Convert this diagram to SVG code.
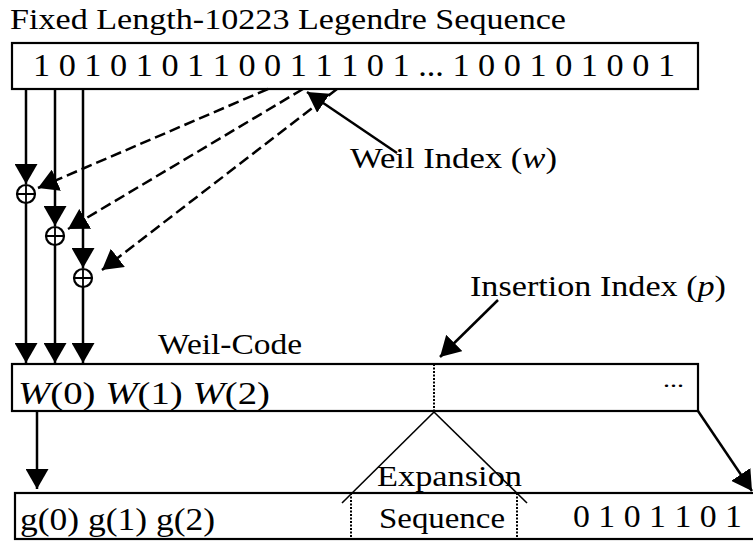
<svg xmlns="http://www.w3.org/2000/svg" width="753" height="541" viewBox="0 0 753 541">
<style>
.t{fill:#000}
.box{fill:#fff;stroke:#000;stroke-width:2.2}
.ln{fill:none;stroke:#000;stroke-width:2.5}
.dash{fill:none;stroke:#000;stroke-width:2.5;stroke-dasharray:11 5}
.dot{fill:none;stroke:#000;stroke-width:2;stroke-dasharray:2 1.5}
.thin{fill:none;stroke:#000;stroke-width:1.6}
.xor circle{fill:#fff;stroke:#000;stroke-width:2.2}
.xor path{stroke:#000;stroke-width:1.8}
</style>
<defs>
<marker id="ah" markerWidth="20" markerHeight="23" refX="20" refY="11.5" orient="auto" markerUnits="userSpaceOnUse">
<path d="M0,0 L20,11.5 L0,23 Z" fill="#000"/>
</marker>
</defs>
<rect width="753" height="541" fill="#fff"/>
<g font-family="Liberation Serif, Times New Roman, serif">
<g id="title"><text class="t" x="10" y="29" font-size="29" textLength="556" lengthAdjust="spacingAndGlyphs">Fixed Length-10223 Legendre Sequence</text></g>

<g id="legendre">
<rect class="box" x="12" y="43" width="686" height="46"/>
<text class="t" x="33" y="76" font-size="32" textLength="642" lengthAdjust="spacingAndGlyphs">1 0 1 0 1 0 1 1 0 0 1 1 1 0 1 ... 1 0 0 1 0 1 0 0 1</text>
</g>

<g id="weilcode">
<text class="t" x="158" y="354" font-size="30" textLength="144" lengthAdjust="spacingAndGlyphs">Weil-Code</text>
<rect class="box" x="12" y="364" width="686" height="47"/>
<line class="dot" x1="434" y1="364" x2="434" y2="411"/>
<text class="t" x="18" y="404" font-size="32" textLength="252" lengthAdjust="spacingAndGlyphs"><tspan font-style="italic">W</tspan>(0) <tspan font-style="italic">W</tspan>(1) <tspan font-style="italic">W</tspan>(2)</text>
<text class="t" x="663" y="387" font-size="20" textLength="21" lengthAdjust="spacingAndGlyphs">...</text>
</g>

<g id="output">
<rect class="box" x="15" y="493" width="760" height="46"/>
<line class="dot" x1="351" y1="493" x2="351" y2="539"/>
<line class="dot" x1="517" y1="493" x2="517" y2="539"/>
<text class="t" x="20" y="530" font-size="32" textLength="195" lengthAdjust="spacingAndGlyphs">g(0) g(1) g(2)</text>
<text class="t" x="379" y="528" font-size="30" textLength="126" lengthAdjust="spacingAndGlyphs">Sequence</text>
<text class="t" x="573" y="527" font-size="31" textLength="169" lengthAdjust="spacingAndGlyphs">0 1 0 1 1 0 1</text>
</g>

<g id="expansion">
<line class="thin" x1="434" y1="412" x2="342" y2="503"/>
<line class="thin" x1="434" y1="412" x2="527" y2="503"/>
<text class="t" x="377" y="486" font-size="30" textLength="145" lengthAdjust="spacingAndGlyphs">Expansion</text>
</g>

<g id="xor1" class="xor"><circle cx="26" cy="194" r="9"/><path d="M17,194 H35 M26,185 V203"/></g>
<g id="xor2" class="xor"><circle cx="55" cy="236" r="9"/><path d="M46,236 H64 M55,227 V245"/></g>
<g id="xor3" class="xor"><circle cx="83" cy="278" r="9"/><path d="M74,278 H92 M83,269 V287"/></g>

<g id="weil-index-label"><text class="t" x="350" y="168" font-size="30" textLength="207" lengthAdjust="spacingAndGlyphs">Weil Index (<tspan font-style="italic">w</tspan>)</text></g>
<g id="insertion-index-label"><text class="t" x="470" y="296" font-size="30" textLength="256" lengthAdjust="spacingAndGlyphs">Insertion Index (<tspan font-style="italic">p</tspan>)</text></g>
</g>
<g id="connectors">
<line class="ln" x1="26" y1="89" x2="26" y2="184" marker-end="url(#ah)"/>
<line class="ln" x1="55" y1="89" x2="55" y2="226" marker-end="url(#ah)"/>
<line class="ln" x1="83" y1="89" x2="83" y2="268" marker-end="url(#ah)"/>
<line class="ln" x1="26" y1="203" x2="26" y2="363" marker-end="url(#ah)"/>
<line class="ln" x1="55" y1="245" x2="55" y2="363" marker-end="url(#ah)"/>
<line class="ln" x1="83" y1="287" x2="83" y2="363" marker-end="url(#ah)"/>
<line class="dash" x1="268" y1="89" x2="38" y2="188" marker-end="url(#ah)"/>
<line class="dash" x1="303" y1="89" x2="68" y2="229" marker-end="url(#ah)"/>
<line class="dash" x1="337" y1="89" x2="102" y2="270" marker-end="url(#ah)"/>
<line class="ln" x1="397" y1="153" x2="307" y2="92" marker-end="url(#ah)"/>
<line class="ln" x1="498" y1="300" x2="440" y2="357" marker-end="url(#ah)"/>
<line class="ln" x1="37" y1="411" x2="37" y2="489" marker-end="url(#ah)"/>
<line class="ln" x1="698" y1="411" x2="752" y2="491" marker-end="url(#ah)"/>
</g>
</svg>
